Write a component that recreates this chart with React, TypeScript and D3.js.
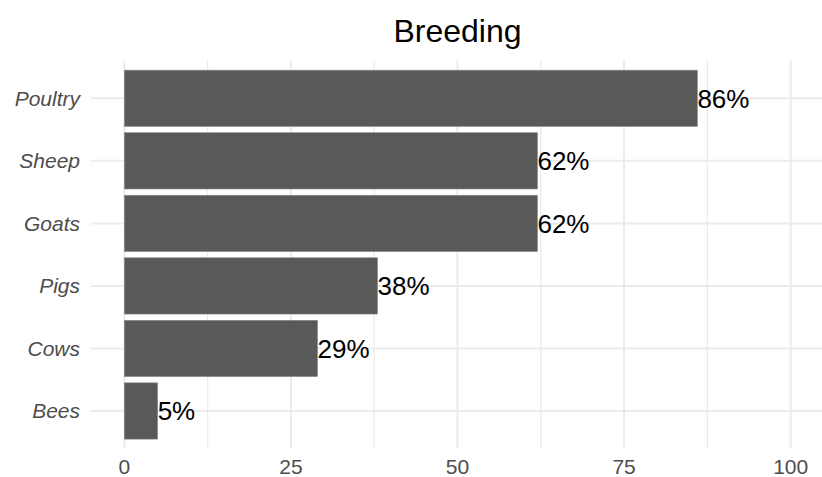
import React from "react";
import * as d3 from "d3";

// Share of farms breeding each kind of animal (percent)
const categories = ["Poultry", "Sheep", "Goats", "Pigs", "Cows", "Bees"];
const values = [86, 62, 62, 38, 29, 5];
const xTicks = [0, 25, 50, 75, 100];
const xMinorTicks = [12.5, 37.5, 62.5, 87.5];
const title = "Breeding";

const W = 822;
const H = 477;
const FONT = "'Liberation Sans', Arial, Helvetica, sans-serif";

export default function App() {
  const x = d3.scaleLinear().domain([-5, 105]).range([91, 824]);
  const y = d3
    .scaleBand<string>()
    .domain(categories)
    .range([60.8, 448.5])
    .paddingInner(0.1)
    .paddingOuter(0.15);

  const panelTop = 60.8;
  const panelBottom = 448.5;
  const panelLeft = 91;
  const panelRight = 824;
  const bw = y.bandwidth();

  return (
    <svg
      width={W}
      height={H}
      viewBox={`0 0 ${W} ${H}`}
      style={{ position: "absolute", left: 0, top: 0, background: "#ffffff" }}
      fontFamily={FONT}
    >
      <rect x={0} y={0} width={W} height={H} fill="#ffffff" />

      {/* minor vertical grid */}
      {xMinorTicks.map((t) => (
        <line
          key={`mn-${t}`}
          x1={x(t)}
          x2={x(t)}
          y1={panelTop}
          y2={panelBottom}
          stroke="#ebebeb"
          strokeWidth={1.3}
        />
      ))}
      {/* major vertical grid */}
      {xTicks.map((t) => (
        <line
          key={`mj-${t}`}
          x1={x(t)}
          x2={x(t)}
          y1={panelTop}
          y2={panelBottom}
          stroke="#ebebeb"
          strokeWidth={2}
        />
      ))}
      {/* horizontal grid at category centres */}
      {categories.map((c) => {
        const cy = (y(c) as number) + bw / 2;
        return (
          <line
            key={`hg-${c}`}
            x1={panelLeft}
            x2={panelRight}
            y1={cy}
            y2={cy}
            stroke="#ebebeb"
            strokeWidth={2}
          />
        );
      })}

      {/* bars */}
      {categories.map((c, i) => (
        <rect
          key={`bar-${c}`}
          x={x(0)}
          y={y(c) as number}
          width={x(values[i]) - x(0)}
          height={bw}
          fill="#595959"
          stroke="#8a8a8a"
          strokeWidth={0.6}
        />
      ))}

      {/* value labels */}
      {categories.map((c, i) => (
        <text
          key={`lab-${c}`}
          x={x(values[i])}
          y={(y(c) as number) + bw / 2 + 0.358 * 26}
          fontSize={26}
          fill="#000000"
          textAnchor="start"
        >
          {`${values[i]}%`}
        </text>
      ))}

      {/* y axis labels */}
      {categories.map((c) => (
        <text
          key={`yl-${c}`}
          x={80}
          y={(y(c) as number) + bw / 2 + 0.358 * 21}
          fontSize={21}
          fontStyle="italic"
          fill="#4d4d4d"
          textAnchor="end"
        >
          {c}
        </text>
      ))}

      {/* x axis labels */}
      {xTicks.map((t) => (
        <text
          key={`xl-${t}`}
          x={x(t)}
          y={473.5}
          fontSize={21}
          fill="#4d4d4d"
          textAnchor="middle"
        >
          {t}
        </text>
      ))}

      {/* title */}
      <text
        x={(panelLeft + panelRight) / 2}
        y={42}
        fontSize={32}
        fill="#000000"
        textAnchor="middle"
      >
        {title}
      </text>
    </svg>
  );
}
